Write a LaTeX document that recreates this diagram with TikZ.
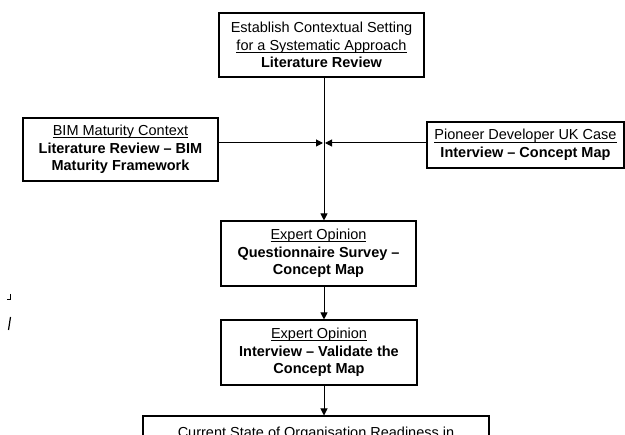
\documentclass[tikz,border=0pt]{standalone}
\usepackage{fontspec}
\setmainfont{Liberation Sans}
\usetikzlibrary{arrows.meta}
\tikzset{
  box/.style={draw=black, line width=1.1pt, align=center, inner sep=0pt,
    font=\fontsize{14.5}{17.5}\selectfont},
  arr/.style={line width=1pt, -{Triangle[length=7pt,width=7pt]}},
}
\newcommand{\ul}[1]{\setbox0\hbox{#1}\rlap{\vrule height -1.6pt depth 2.7pt width \wd0}\box0}
\begin{document}
\begin{tikzpicture}[x=1pt,y=-1pt]
\clip (0,0) rectangle (625,435);
\useasboundingbox (0,0) rectangle (625,435);
\fill[white] (0,0) rectangle (625,435);
\node[box, minimum width=205, minimum height=64] (top) at (321.5,45)
  {Establish Contextual Setting\\ \ul{for a Systematic Approach}\\ \textbf{Literature Review}};
\node[box, minimum width=195, minimum height=63] (bim) at (120.5,149.5)
  {\ul{BIM Maturity Context}\\ \textbf{Literature Review -- BIM}\\ \textbf{Maturity Framework}};
\node[box, minimum width=197, minimum height=46] (pio) at (525.5,145)
  {\ul{Pioneer Developer UK Case}\\ \textbf{Interview -- Concept Map}};
\node[box, minimum width=195, minimum height=65] (e1) at (318.5,253.5)
  {\ul{Expert Opinion}\\ \textbf{Questionnaire Survey --}\\ \textbf{Concept Map}};
\node[box, minimum width=196, minimum height=65] (e2) at (319,352.5)
  {\ul{Expert Opinion}\\ \textbf{Interview -- Validate the}\\ \textbf{Concept Map}};
\node[box, minimum width=346, minimum height=60, anchor=north, text depth=44pt, text height=21pt] (cur) at (316,415.5)
  {Current State of Organisation Readiness in};
\coordinate (j) at (324,143);
\draw[line width=1pt] (top.south -| j) -- (j);
\draw[arr] (j) -- (e1.north -| j);
\draw[arr] (bim.east |- j) -- ([xshift=-1pt]j);
\draw[arr] (pio.west |- j) -- ([xshift=1pt]j);
\draw[arr] (e1.south -| j) -- (e2.north -| j);
\draw[arr] (e2.south -| j) -- (cur.north -| j);
\draw[line width=1pt] (10,294) -- (10,300) -- (7,300);
\draw[line width=1.2pt] (10.5,317) -- (8.5,330);
\end{tikzpicture}
\end{document}
